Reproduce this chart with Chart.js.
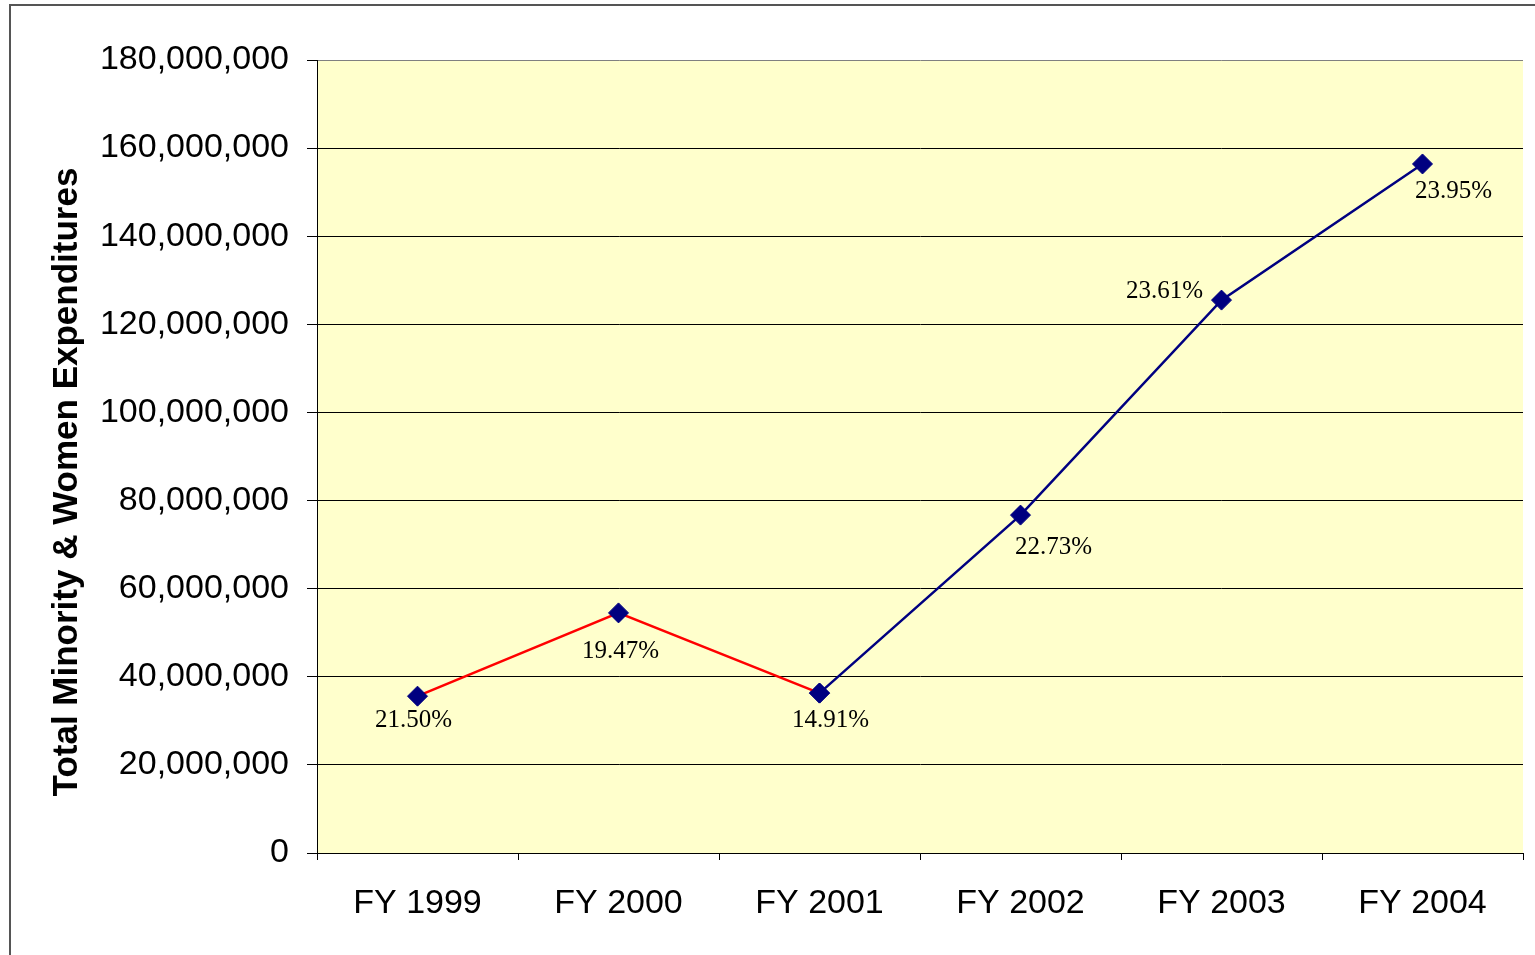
<html>
<head>
<style>
  body { margin:0; background:#fff; overflow:hidden; }
  #frame { position:absolute; left:9px; top:4px; width:1540px; height:960px; border:2px solid #555; box-sizing:border-box; }
  #wrap { position:absolute; left:0; top:0; width:1535px; height:955px; }
</style>
</head>
<body>
<div id="frame"></div>
<div id="wrap">
  <canvas id="myChart" width="1535" height="955"></canvas>
</div>

<script src="https://cdn.jsdelivr.net/npm/chart.js"></script>

<script>
  const years = ['FY 1999','FY 2000','FY 2001','FY 2002','FY 2003','FY 2004'];
  // red part of the line (FY1999 - FY2001)
  const redValues = [35600000, 54500000, 36300000, null, null, null];
  // blue part of the line (FY2001 - FY2004)
  const blueValues = [null, null, 36300000, 76700000, 125500000, 156400000];
  const pctLabels = ['21.50%','19.47%','14.91%','22.73%','23.61%','23.95%'];

  const axisTitle = 'Total Minority & Women Expenditures';

  // draws the percentage labels next to the points
  const pctPlugin = {
    id: 'pct',
    afterDatasetsDraw(chart, args, opts) {
      const ctx = chart.ctx;
      const xs = chart.scales.x, ys = chart.scales.y;
      ctx.save();
      ctx.font = '25px "Liberation Serif", "Times New Roman", serif';
      ctx.fillStyle = '#000';
      ctx.textAlign = 'center';
      ctx.textBaseline = 'middle';
      for (let i = 0; i < pctLabels.length; i++) {
        const v = blueValues[i] != null ? blueValues[i] : redValues[i];
        const px = xs.getPixelForValue(i);
        const py = ys.getPixelForValue(v);
        const off = opts.offsets[i];
        ctx.fillText(pctLabels[i], px + off[0], py + off[1]);
      }
      ctx.restore();
    }
  };

  // rotated y axis title
  const titlePlugin = {
    id: 'ytitle',
    afterDraw(chart) {
      const ctx = chart.ctx;
      ctx.save();
      ctx.translate(67, 482);
      ctx.rotate(-Math.PI / 2);
      ctx.font = 'bold 35px "Liberation Sans", Arial, sans-serif';
      ctx.fillStyle = '#000';
      ctx.textAlign = 'center';
      ctx.textBaseline = 'middle';
      ctx.fillText(axisTitle, 0, 0);
      ctx.restore();
    }
  };

  // plot area background
  const bgPlugin = {
    id: 'bg',
    beforeDraw(chart) {
      const a = chart.chartArea;
      chart.ctx.save();
      chart.ctx.fillStyle = '#FFFFCC';
      chart.ctx.fillRect(a.left, a.top, a.right - a.left, a.bottom - a.top);
      chart.ctx.restore();
    }
  };

  const pointStyle = {
    pointStyle: 'rectRot',
    pointRadius: 10,
    pointHoverRadius: 10,
    pointBackgroundColor: '#000080',
    pointBorderColor: '#000080',
    pointBorderWidth: 1
  };

  const config = {
    type: 'line',
    data: {
      labels: years,
      datasets: [
        Object.assign({ label: 'red', data: redValues, borderColor: '#FF0000', borderWidth: 2.5, tension: 0, spanGaps: false }, pointStyle),
        Object.assign({ label: 'blue', data: blueValues, borderColor: '#000080', borderWidth: 2.5, tension: 0, spanGaps: false }, pointStyle)
      ]
    },
    options: {
      responsive: false,
      animation: false,
      layout: { padding: { top: 60, right: 12, left: 0, bottom: 0 } },
      plugins: {
        legend: { display: false },
        tooltip: { enabled: false },
        pct: { offsets: [[-4, 24], [2, 39], [11, 27], [33, 32], [-57, -9], [31, 27]] }
      },
      scales: {
        x: {
          offset: true,
          grid: { offset: true, drawOnChartArea: false, color: '#000', tickLength: 7, tickColor: '#000' },
          border: { color: '#000', width: 1 },
          ticks: { color: '#000', font: { family: '"Liberation Sans", Arial', size: 34 }, padding: 23, maxRotation: 0 },
          afterFit(s) { s.height = 102; }
        },
        y: {
          min: 0,
          max: 180000000,
          ticks: {
            stepSize: 20000000,
            color: '#000',
            padding: 18,
            font: { family: '"Liberation Sans", Arial', size: 34 },
            callback: v => v.toLocaleString('en-US')
          },
          grid: {
            color: ctx => ctx.index === 9 ? '#808080' : '#000',
            lineWidth: 1,
            tickLength: 10,
            tickColor: '#000'
          },
          border: { color: '#000', width: 1 },
          afterFit(s) { s.width = 317; }
        }
      }
    },
    plugins: [bgPlugin, pctPlugin, titlePlugin]
  };

  const myChart = new Chart(document.getElementById('myChart'), config);
</script>
</body>
</html>
